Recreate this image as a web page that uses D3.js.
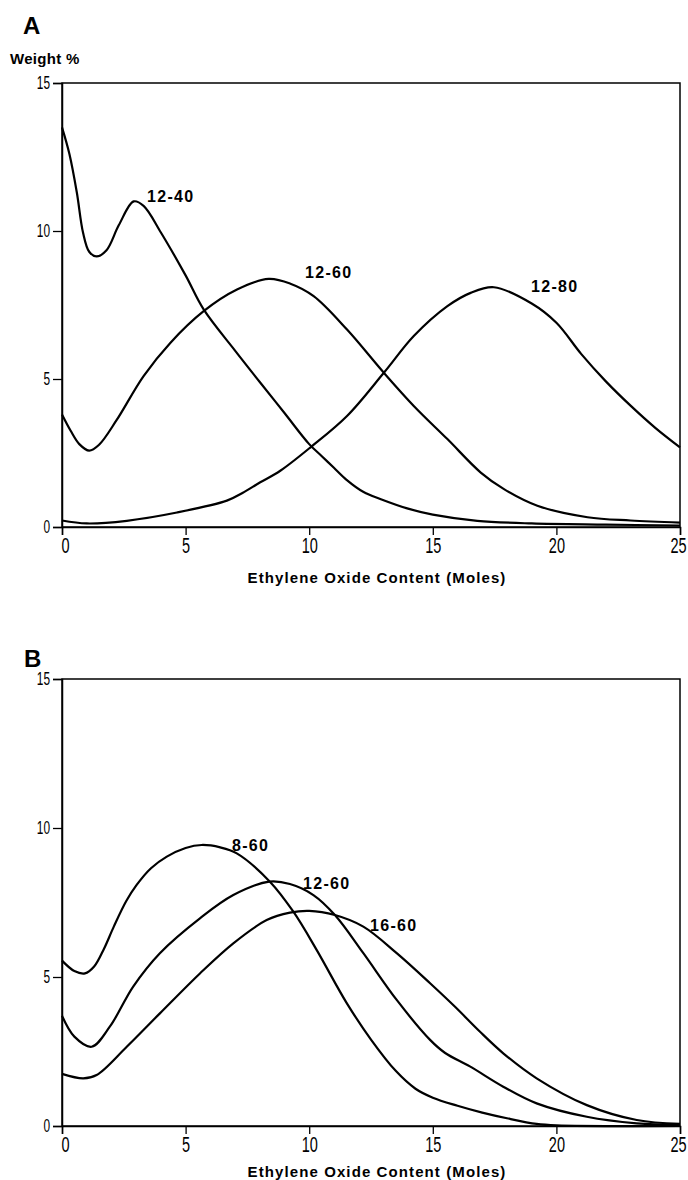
<!DOCTYPE html>
<html>
<head>
<meta charset="utf-8">
<script src="https://cdn.jsdelivr.net/npm/d3@7"></script>
<style>
  html, body { margin: 0; padding: 0; background: #fff; }
  svg { display: block; }
  .tick text { font-family: "Liberation Sans", Arial, sans-serif; fill: #000; }
  .bold { font-family: "Liberation Sans", Arial, sans-serif; font-weight: bold; fill: #000; }
</style>
</head>
<body>
<svg id="chart" width="688" height="1180"></svg>
<script>
// Ethylene oxide distribution (weight %) versus moles of EO
const xTicks = [0, 5, 10, 15, 20, 25];
const yTicks = [0, 5, 10, 15];
const xTitle = "Ethylene Oxide Content (Moles)";

// Panel A: 12-carbon base, varying EO charge
const a1240X = [0, 0.3, 0.6, 0.85, 1.1, 1.4, 1.8, 2.3, 2.9, 3.3, 4.0, 5.0, 5.73, 7.0, 8.0, 9.0, 10.0, 10.5, 11.0, 11.5, 12.2, 12.9, 14.0, 15.0, 16.8, 19, 22, 25];
const a1240Y = [13.5, 12.6, 11.3, 9.95, 9.3, 9.14, 9.35, 10.2, 11.0, 10.85, 9.95, 8.5, 7.35, 5.96, 4.9, 3.85, 2.8, 2.4, 2.0, 1.6, 1.18, 0.94, 0.62, 0.42, 0.21, 0.12, 0.08, 0.05];

const a1260X = [0, 0.35, 0.7, 1.1, 1.5, 2.2, 3.3, 4.38, 5.73, 7.08, 8.36, 9.24, 10.18, 11.53, 13.02, 14.23, 15.59, 16.94, 17.88, 19.23, 21.26, 23, 25];
const a1260Y = [3.8, 3.25, 2.8, 2.58, 2.78, 3.6, 5.1, 6.22, 7.29, 8.02, 8.38, 8.22, 7.8, 6.67, 5.21, 4.09, 2.97, 1.84, 1.28, 0.72, 0.33, 0.22, 0.15];

const a1280X = [0, 1, 2.62, 4.65, 6.67, 7.3, 8.02, 8.83, 10.08, 11.53, 13.02, 14.23, 15.59, 16.53, 17.47, 19, 20, 21, 22, 23, 24, 25];
const a1280Y = [0.22, 0.12, 0.21, 0.49, 0.89, 1.15, 1.51, 1.9, 2.71, 3.75, 5.21, 6.45, 7.46, 7.91, 8.1, 7.55, 6.9, 5.85, 4.92, 4.1, 3.35, 2.69];

// Panel B: fixed EO charge, varying base
const b860X = [0, 0.5, 0.93, 1.3, 1.7, 2.1, 2.6, 3.02, 3.6, 4.24, 5.0, 5.65, 6.4, 7.07, 8.41, 9.36, 10.3, 11.5, 12.5, 13.5, 14.3, 15.0, 16.0, 17.0, 18.0, 19.2, 20, 25];
const b860Y = [5.55, 5.2, 5.12, 5.35, 5.95, 6.7, 7.55, 8.09, 8.65, 9.04, 9.33, 9.43, 9.35, 9.15, 8.2, 7.19, 5.91, 4.15, 2.9, 1.85, 1.25, 0.95, 0.68, 0.45, 0.26, 0.07, 0.02, 0];

const b1260X = [0, 0.5, 1.2, 1.94, 2.88, 3.96, 5.58, 6.93, 8.38, 9.22, 10.17, 11.04, 12.19, 13.54, 14.89, 15.5, 16.5, 17.85, 19.2, 21.23, 23.25, 25];
const b1260Y = [3.7, 3.0, 2.66, 3.34, 4.68, 5.8, 6.97, 7.75, 8.2, 8.12, 7.75, 7.08, 5.8, 4.23, 2.89, 2.45, 2.0, 1.32, 0.76, 0.31, 0.09, 0.03];

const b1660X = [0, 0.86, 1.4, 2.62, 3.96, 5.58, 6.93, 8.28, 9.22, 10.0, 11.04, 12.19, 13.54, 14.89, 15.9, 16.9, 17.85, 19.2, 21.23, 23.25, 25];
const b1660Y = [1.75, 1.6, 1.71, 2.66, 3.78, 5.12, 6.13, 6.91, 7.16, 7.22, 7.08, 6.69, 5.8, 4.79, 4.0, 3.17, 2.44, 1.6, 0.7, 0.2, 0.07];

const panelA = {
  letter: "A", yTitle: "Weight %", top: 83, bottom: 527,
  series: [
    { name: "12-40", xs: a1240X, ys: a1240Y, label: [147, 202] },
    { name: "12-60", xs: a1260X, ys: a1260Y, label: [305, 278] },
    { name: "12-80", xs: a1280X, ys: a1280Y, label: [531, 292] }
  ]
};
const panelB = {
  letter: "B", yTitle: null, top: 679, bottom: 1126,
  series: [
    { name: "8-60", xs: b860X, ys: b860Y, label: [232, 851] },
    { name: "12-60", xs: b1260X, ys: b1260Y, label: [303, 889] },
    { name: "16-60", xs: b1660X, ys: b1660Y, label: [370, 931] }
  ]
};

const svg = d3.select("#chart");
const left = 62, right = 680;
const narrow = 0.66;  // horizontal squeeze for the plotter-style tick digits

function drawPanel(p, letterPos, titleY) {
  const x = d3.scaleLinear().domain([0, 25]).range([left, right]);
  const y = d3.scaleLinear().domain([0, 15]).range([p.bottom, p.top]);
  const g = svg.append("g");

  // frame
  g.append("rect")
    .attr("x", left).attr("y", p.top)
    .attr("width", right - left).attr("height", p.bottom - p.top)
    .attr("fill", "none").attr("stroke", "#000").attr("stroke-width", 1.5);

  const xAxis = g.append("g").attr("transform", `translate(0,${p.bottom})`)
    .call(d3.axisBottom(x).tickValues(xTicks).tickSize(8).tickPadding(2).tickFormat(d3.format("d")));
  xAxis.select(".domain").attr("stroke-width", 1.5);
  xAxis.selectAll(".tick line").attr("stroke-width", 1.3);
  xAxis.selectAll(".tick text")
    .attr("font-size", 22)
    .attr("transform", `scale(${narrow},1)`)
    .attr("x", d => (d === 25 ? -2 : d === 0 ? 3 : 0) / narrow);

  const yAxis = g.append("g").attr("transform", `translate(${left},0)`)
    .call(d3.axisLeft(y).tickValues(yTicks).tickSize(9).tickPadding(3).tickFormat(d3.format("d")));
  yAxis.select(".domain").attr("stroke-width", 1.5);
  yAxis.selectAll(".tick line").attr("stroke-width", 1.3);
  yAxis.selectAll(".tick text")
    .attr("font-size", 18)
    .attr("transform", `scale(${narrow},1)`)
    .attr("x", -12 / narrow);

  const line = d3.line().curve(d3.curveCatmullRom.alpha(0.5));
  p.series.forEach(s => {
    const pts = s.xs.map((v, i) => [x(v), y(s.ys[i])]);
    g.append("path").attr("d", line(pts))
      .attr("fill", "none").attr("stroke", "#000").attr("stroke-width", 2.2)
      .attr("stroke-linejoin", "round");
    g.append("text").attr("class", "bold")
      .attr("x", s.label[0]).attr("y", s.label[1])
      .attr("font-size", 16).attr("letter-spacing", 1.3)
      .text(s.name);
  });

  g.append("text").attr("class", "bold")
    .attr("x", letterPos[0]).attr("y", letterPos[1])
    .attr("font-size", 24).text(p.letter);

  if (p.yTitle) {
    g.append("text").attr("class", "bold")
      .attr("x", 10).attr("y", 64).attr("font-size", 15)
      .attr("letter-spacing", 0.3)
      .text(p.yTitle);
  }

  g.append("text").attr("class", "bold")
    .attr("x", (left + right) / 2 + 6).attr("y", titleY)
    .attr("text-anchor", "middle").attr("font-size", 15)
    .attr("letter-spacing", 1.1)
    .text(xTitle);
}

drawPanel(panelA, [23, 34], 583);
drawPanel(panelB, [24, 667], 1177);
</script>
</body>
</html>
